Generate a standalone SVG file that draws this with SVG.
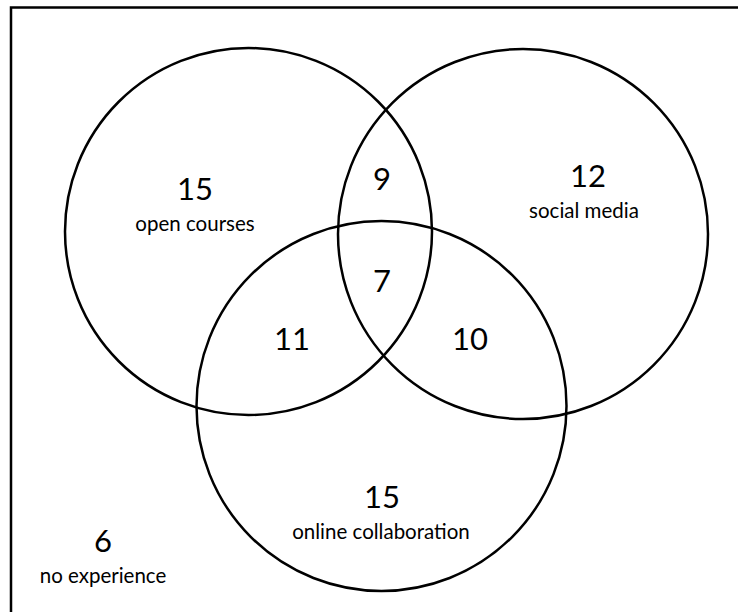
<svg xmlns="http://www.w3.org/2000/svg" width="738" height="612" viewBox="0 0 738 612">
<style>
.c{fill:none;stroke:#000;stroke-width:2.5}
.n{font-family:Lato,"Open Sans",sans-serif;font-size:31px;fill:#000;text-anchor:middle}
.l{font-family:Lato,"Open Sans",sans-serif;font-size:20.5px;fill:#000;text-anchor:middle}
</style>
<rect x="0" y="0" width="738" height="612" fill="#fff"/>
<rect x="11" y="7.5" width="760" height="640" fill="none" stroke="#000" stroke-width="2.5"/>
<g id="open-courses"><circle class="c" cx="248.5" cy="231.5" r="183.5"/><text class="n" x="195" y="200">15</text><text class="l" x="195" y="231">open courses</text></g>
<g id="social-media"><circle class="c" cx="523" cy="234" r="185"/><text class="n" x="588" y="187">12</text><text class="l" x="584" y="218">social media</text></g>
<g id="online-collaboration"><circle class="c" cx="381.5" cy="406" r="185"/><text class="n" x="382" y="508">15</text><text class="l" x="381" y="539">online collaboration</text></g>
<g id="overlaps">
<text class="n" x="382" y="190">9</text>
<text class="n" x="382" y="292">7</text>
<text class="n" x="292" y="350">11</text>
<text class="n" x="470" y="350">10</text>
</g>
<g id="no-experience"><text class="n" x="103" y="552">6</text><text class="l" x="103" y="583">no experience</text></g>
<g id="connectors"/>
</svg>
